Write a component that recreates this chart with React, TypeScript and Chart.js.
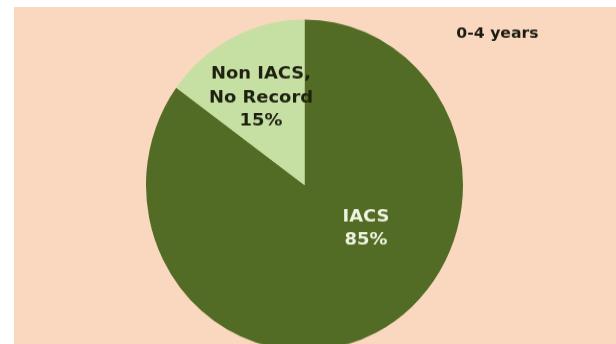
import React, { useEffect, useRef } from 'react';
import { Chart, registerables } from 'chart.js';

Chart.register(...registerables);

// ---- data ----
const categories = ['IACS', 'Non IACS, No Record'];
const values = [85, 15];
const sliceLabels = [
  ['IACS', '85%'],
  ['Non IACS,', 'No Record', '15%'],
];
const chartTitle = '0-4 years';

// ---- style ----
const BG = '#F9D8BF';
const COLORS = ['#526C25', '#C6DFA3'];
const LABEL_COLORS = ['#EEF2DF', '#1E2010'];
const STRETCH_Y = 1.044; // the pie in the picture is a slightly tall ellipse
const TEXT_SX = 1.12; // text in the picture is slightly wide
const CX = 290.5;
const CY = 178;
const R = 158.5;

// label anchor offsets from the pie centre (visual px), per slice: [dx, firstBaselineDy, lineGap]
const LABEL_POS: [number, number, number][] = [
  [61.5, 37, 23],
  [-43.5, -106, 23.5],
];

const textPlugin = {
  id: 'sliceText',
  afterDraw(chart: any) {
    const ctx = chart.ctx as CanvasRenderingContext2D;
    const arc = chart.getDatasetMeta(0).data[0];
    const cx = arc.x;
    const cy = arc.y;
    const draw = (s: string, x: number, y: number, font: string, color: string) => {
      const yy = cy + (y - cy) / STRETCH_Y;
      ctx.save();
      ctx.translate(x, yy);
      ctx.scale(TEXT_SX, 1 / STRETCH_Y);
      ctx.font = font;
      ctx.fillStyle = color;
      ctx.textAlign = 'center';
      ctx.textBaseline = 'alphabetic';
      ctx.fillText(s, 0, 0);
      ctx.restore();
    };
    sliceLabels.forEach((lines, i) => {
      const [dx, dy, gap] = LABEL_POS[i];
      lines.forEach((line, j) => {
        draw(line, cx + dx, cy + dy + j * gap, 'bold 16px "DejaVu Sans"', LABEL_COLORS[i]);
      });
    });
    draw(chartTitle, 483.5, 30.5, 'bold 14px "DejaVu Sans"', '#1A1A10');
  },
};

export default function App() {
  const ref = useRef<HTMLCanvasElement | null>(null);
  useEffect(() => {
    if (!ref.current) return;
    const W = 602;
    const H = 337;
    const chart = new Chart(ref.current, {
      type: 'pie',
      data: {
        labels: categories,
        datasets: [
          {
            data: values,
            backgroundColor: COLORS,
            borderWidth: 0,
            hoverOffset: 0,
          },
        ],
      },
      options: {
        responsive: false,
        maintainAspectRatio: false,
        animation: false,
        radius: R,
        layout: {
          padding: {
            left: CX - R,
            right: W - (CX + R),
            top: CY - R,
            bottom: H - (CY + R),
          },
        },
        plugins: {
          legend: { display: false },
          tooltip: { enabled: false },
          title: { display: false },
        },
      } as any,
      plugins: [textPlugin],
    });
    return () => chart.destroy();
  }, []);

  return (
    <div
      style={{
        position: 'fixed',
        left: 14,
        top: 7,
        width: 602,
        height: 337,
        background: BG,
        overflow: 'hidden',
      }}
    >
      <canvas
        ref={ref}
        width={602}
        height={337}
        style={{
          display: 'block',
          width: '602px',
          height: '337px',
          transform: `scaleY(${STRETCH_Y})`,
          transformOrigin: `${CX}px ${CY}px`,
        }}
      />
    </div>
  );
}
